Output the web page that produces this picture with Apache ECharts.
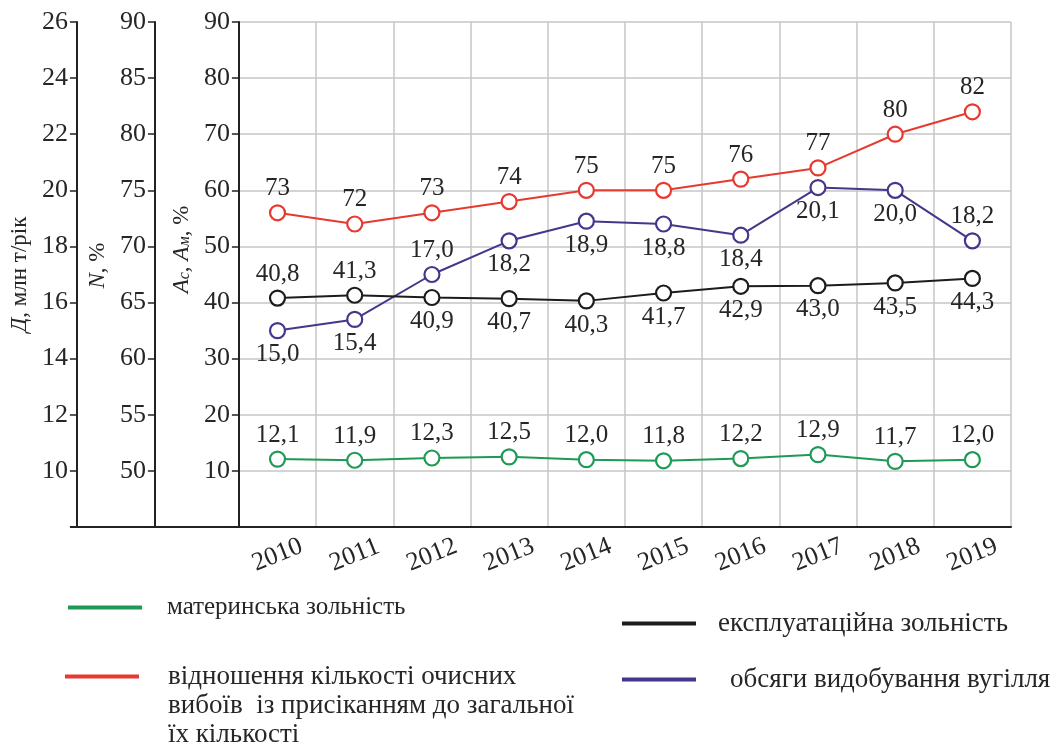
<!DOCTYPE html>
<html>
<head>
<meta charset="utf-8">
<script src="https://cdn.jsdelivr.net/npm/echarts@6/dist/echarts.min.js"></script>
<style>
  html, body { margin: 0; padding: 0; background: #ffffff; }
  #chart { width: 1056px; height: 749px; }
</style>
</head>
<body>
<div id="chart"></div>
<script>
// Years on the category axis
const years = ['2010', '2011', '2012', '2013', '2014', '2015', '2016', '2017', '2018', '2019'];

// Native ash content, % (Ac/Aм axis)
const nativeAsh = [12.1, 11.9, 12.3, 12.5, 12.0, 11.8, 12.2, 12.9, 11.7, 12.0];
// Operational ash content, % (Ac/Aм axis)
const operationalAsh = [40.8, 41.3, 40.9, 40.7, 40.3, 41.7, 42.9, 43.0, 43.5, 44.3];
// Share of longwall faces with roof undercutting, % (N axis)
const faceRatio = [73, 72, 73, 74, 75, 75, 76, 77, 80, 82];
// Coal output, mln t/year (Д axis)
const coalOutput = [15.0, 15.4, 17.0, 18.2, 18.9, 18.8, 18.4, 20.1, 20.0, 18.2];

// Axis ranges: [min, max, step]
const outputRange = [8, 26, 2];
const ratioRange = [45, 90, 5];
const ashRange = [0, 90, 10];

// Which side of each point its value label sits on
const operationalAshSide = ['top', 'top', 'bottom', 'bottom', 'bottom', 'bottom', 'bottom', 'bottom', 'bottom', 'bottom'];
const coalOutputSide = ['bottom', 'bottom', 'top', 'bottom', 'bottom', 'bottom', 'bottom', 'bottom', 'bottom', 'top'];

const FONT = '"Liberation Serif", "DejaVu Serif", serif';
const TEXT = '#262626';
const AXIS = '#222222';
const GRID = '#c6c6c6';

const NAMES = {
  green: 'материнська зольність',
  black: 'експлуатаційна зольність',
  red: 'відношення кількості очисних вибоїв  із присіканням до загальної їх кількості',
  purple: 'обсяги видобування вугілля'
};
const COLORS = { green: '#1f9a56', black: '#1c1c1c', red: '#e63a30', purple: '#45368c' };

const oneDecimal = v => v.toFixed(1).replace('.', ',');
const whole = v => String(Math.round(v));

function lineSeries(key, values, axisIndex, sides, fmt) {
  const color = COLORS[key];
  return {
    name: NAMES[key],
    type: 'line',
    yAxisIndex: axisIndex,
    data: values.map((v, i) => ({ value: v, label: { position: sides ? sides[i] : 'top' } })),
    symbol: 'circle',
    symbolSize: 15,
    lineStyle: { color: color, width: 2 },
    itemStyle: { color: '#ffffff', borderColor: color, borderWidth: 2.2 },
    label: {
      show: true,
      formatter: p => fmt(p.value),
      fontFamily: FONT,
      fontSize: 25,
      color: TEXT,
      distance: 3
    },
    emphasis: { disabled: true },
    animation: false
  };
}

function valueAxis(range, offset, name, nameGap, namePad, split) {
  return {
    type: 'value',
    position: 'left',
    offset: offset,
    min: range[0],
    max: range[1],
    interval: range[2],
    axisLine: { show: true, onZero: false, lineStyle: { color: AXIS, width: 2 } },
    axisTick: { show: true, length: 7, lineStyle: { color: AXIS, width: 1.5 } },
    axisLabel: {
      fontFamily: FONT, fontSize: 26, color: TEXT, margin: 9,
      formatter: v => (v === range[0] ? '' : String(v))
    },
    splitLine: { show: split, lineStyle: { color: GRID, width: 1.5 } },
    name: name,
    nameLocation: 'middle',
    nameRotate: 90,
    nameGap: nameGap,
    nameTextStyle: {
      fontFamily: FONT, fontSize: 23, color: TEXT,
      padding: [0, 0, 0, namePad],
      rich: {
        i: { fontFamily: FONT, fontSize: 23, fontStyle: 'italic', color: TEXT },
        r: { fontFamily: FONT, fontSize: 23, color: TEXT },
        s: { fontFamily: FONT, fontSize: 16, fontStyle: 'italic', color: TEXT, verticalAlign: 'bottom' }
      }
    }
  };
}

function legendBox(key, left, top, textPad, fontSize, text) {
  return {
    show: true,
    data: [NAMES[key]],
    left: left,
    top: top,
    padding: 0,
    icon: 'rect',
    itemWidth: 74,
    itemHeight: 4,
    selectedMode: false,
    itemStyle: { color: COLORS[key], borderWidth: 0 },
    formatter: () => text,
    textStyle: {
      fontFamily: FONT, fontSize: fontSize, color: TEXT, lineHeight: 29,
      padding: [0, 0, 0, textPad]
    }
  };
}

const chart = echarts.init(document.getElementById('chart'), null, { renderer: 'canvas' });

chart.setOption({
  backgroundColor: '#ffffff',
  animation: false,
  grid: { left: 238, right: 45, top: 22, bottom: 222, containLabel: false },
  xAxis: {
    type: 'category',
    data: years,
    boundaryGap: true,
    axisLine: { lineStyle: { color: AXIS, width: 2 } },
    axisTick: { alignWithLabel: true, interval: 0, length: 7, lineStyle: { color: AXIS, width: 1.5 } },
    axisLabel: {
      interval: 0, rotate: 22, align: 'center', verticalAlign: 'middle', margin: 28,
      fontFamily: FONT, fontSize: 26, color: TEXT
    },
    splitLine: { show: true, interval: 0, lineStyle: { color: GRID, width: 1.5 } }
  },
  yAxis: [
    valueAxis(outputRange, 162, '{i|Д}{r|, млн т/рік}', 32, 0, false),
    valueAxis(ratioRange, 84, '{i|N}{r|, %}', 28, 18, false),
    valueAxis(ashRange, 0, '{i|A}{s|с}{r|, }{i|A}{s|м}{r|, %}', 34, 50, true)
  ],
  legend: [
    legendBox('green', 68, 593, 20, 25, NAMES.green),
    // two empty lines above keep the first text line level with the swatch
    legendBox('red', 65, 604, 24, 27,
      '\n\nвідношення кількості очисних\nвибоїв  із присіканням до загальної\nїх кількості'),
    legendBox('black', 622, 609, 17, 27, NAMES.black),
    legendBox('purple', 622, 665, 29, 27, NAMES.purple)
  ],
  graphic: [
    {
      // left-hand continuation of the baseline under the extra value axes
      type: 'line',
      shape: { x1: 70, y1: 527, x2: 239, y2: 527 },
      style: { stroke: AXIS, lineWidth: 2 },
      silent: true
    }
  ],
  series: [
    lineSeries('red', faceRatio, 1, null, whole),
    lineSeries('purple', coalOutput, 0, coalOutputSide, oneDecimal),
    lineSeries('black', operationalAsh, 2, operationalAshSide, oneDecimal),
    lineSeries('green', nativeAsh, 2, null, oneDecimal)
  ]
});
</script>
</body>
</html>
